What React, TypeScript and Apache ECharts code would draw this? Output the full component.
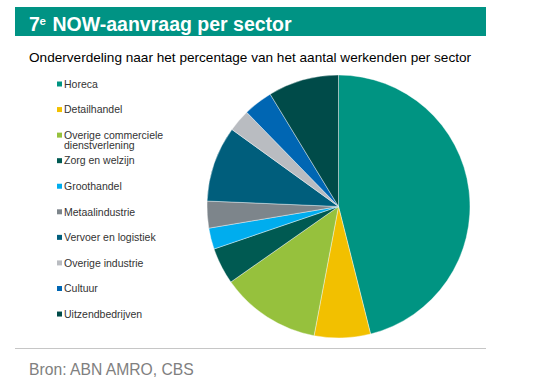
import React, { useEffect, useRef } from "react";
import * as echarts from "echarts";

const categories = [
  "Horeca",
  "Detailhandel",
  "Overige commerciele\ndienstverlening",
  "Zorg en welzijn",
  "Groothandel",
  "Metaalindustrie",
  "Vervoer en logistiek",
  "Overige industrie",
  "Cultuur",
  "Uitzendbedrijven",
];
const shares = [46.1, 6.9, 12.3, 4.5, 2.6, 3.3, 9.3, 2.75, 3.6, 8.7];
const colors = [
  "#009482",
  "#F2C000",
  "#96C13D",
  "#005A52",
  "#00ADEE",
  "#7D858B",
  "#005E7C",
  "#B9BCC1",
  "#0066B3",
  "#004B49",
];

const titleMain = "NOW-aanvraag per sector";
const subtitle = "Onderverdeling naar het percentage van het aantal werkenden per sector";
const source = "Bron: ABN AMRO, CBS";
const FONT = "'Liberation Sans', Arial, sans-serif";

export default function App() {
  const ref = useRef<HTMLDivElement>(null);
  useEffect(() => {
    if (!ref.current) return;
    const chart = echarts.init(ref.current, null, { renderer: "svg" });
    const legendEls: any[] = [];
    categories.forEach((c, i) => {
      const y = 84 + i * 25.56;
      legendEls.push({
        type: "rect",
        shape: { x: 57, y: y - 2.5, width: 5, height: 5 },
        style: { fill: colors[i] },
      });
      legendEls.push({
        type: "text",
        x: 64,
        y: y - 5.5,
        style: {
          text: c,
          font: `10.5px ${FONT}`,
          fill: "#333333",
          verticalAlign: "top",
          lineHeight: 10.5,
        },
      });
    });
    chart.setOption({
      animation: false,
      backgroundColor: "#ffffff",
      textStyle: { fontFamily: FONT },
      graphic: [
        {
          type: "rect",
          shape: { x: 15, y: 7, width: 471, height: 29 },
          style: { fill: "#009384" },
        },
        {
          type: "text",
          x: 29,
          y: 23.5,
          style: {
            text: "7",
            font: `bold 19.5px ${FONT}`,
            fill: "#ffffff",
            verticalAlign: "middle",
          },
        },
        {
          type: "text",
          x: 39.5,
          y: 20.5,
          style: {
            text: "e",
            font: `bold 11.5px ${FONT}`,
            fill: "#ffffff",
            verticalAlign: "middle",
          },
        },
        {
          type: "text",
          x: 52.5,
          y: 23.5,
          style: {
            text: titleMain,
            font: `bold 19.5px ${FONT}`,
            fill: "#ffffff",
            verticalAlign: "middle",
          },
        },
        {
          type: "text",
          x: 29,
          y: 57.2,
          style: {
            text: subtitle,
            font: `13.6px ${FONT}`,
            fill: "#000000",
            verticalAlign: "middle",
          },
        },
        {
          type: "line",
          shape: { x1: 15, y1: 348.5, x2: 486, y2: 348.5 },
          style: { stroke: "#c6c6c6", lineWidth: 1 },
        },
        {
          type: "text",
          x: 29,
          y: 369,
          style: {
            text: source,
            font: `15.7px ${FONT}`,
            fill: "#808080",
            verticalAlign: "middle",
          },
        },
        ...legendEls,
      ],
      series: [
        {
          type: "pie",
          center: [338.5, 206.5],
          radius: 131.5,
          startAngle: 90,
          clockwise: true,
          label: { show: false },
          labelLine: { show: false },
          emphasis: { disabled: true },
          itemStyle: { borderColor: "#ffffff", borderWidth: 0.4 },
          data: categories.map((c, i) => ({
            name: c,
            value: shares[i],
            itemStyle: { color: colors[i] },
          })),
        },
      ],
    });
    return () => chart.dispose();
  }, []);
  return (
    <div
      ref={ref}
      style={{ position: "fixed", left: 0, top: 0, width: 535, height: 382 }}
    />
  );
}
